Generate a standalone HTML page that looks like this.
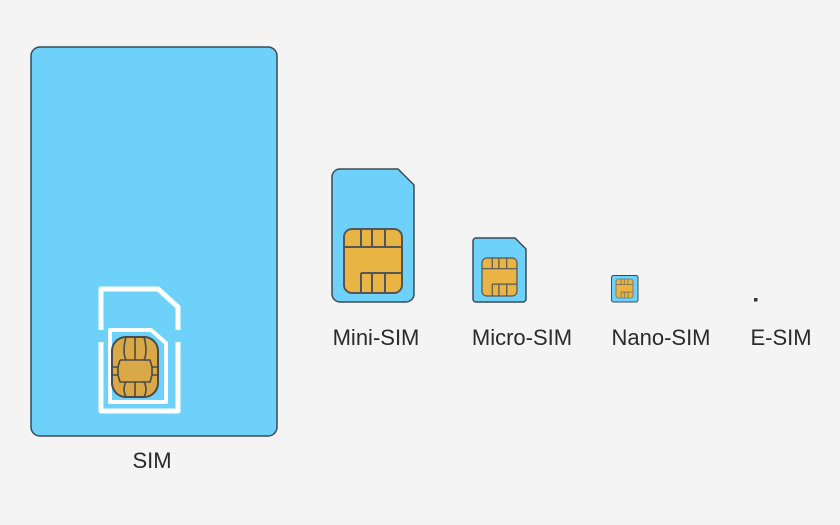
<!DOCTYPE html>
<html><head><style>
body{margin:0;background:#f4f4f4;}
svg{display:block}
text{font-family:"Liberation Sans",Arial,sans-serif;font-size:22px;fill:#2a2a2a;text-anchor:middle}
</style></head><body>
<svg width="840" height="525" viewBox="0 0 840 525">
<defs>
<g id="chip">
<rect x="0" y="0" width="58" height="64" rx="8" fill="#e8b545" stroke="#555" stroke-width="2"/>
<path d="M17 0V18M28 0V18M41 0V18M0 18H58M17 44H58M17 44V64M28 44V64M41 44V64" stroke="#555" stroke-width="2" fill="none"/>
</g>
</defs>
<rect width="840" height="525" fill="#f4f4f4"/>
<rect x="31" y="47" width="246" height="389" rx="9" fill="#6dd1fa" stroke="#3c4a55" stroke-width="1.5"/>
<path d="M101 289H158L178 307V411H101Z" fill="none" stroke="#fff" stroke-width="5" stroke-linejoin="round"/>
<rect x="97" y="330" width="9" height="12" fill="#6dd1fa"/>
<rect x="169" y="330" width="12" height="12" fill="#6dd1fa"/>
<path d="M110 330H151L166 343V402H110Z" fill="none" stroke="#fff" stroke-width="4" stroke-linejoin="round"/>
<g transform="translate(112,337)">
<rect x="0" y="0" width="46" height="60" rx="14" fill="#d9a948" stroke="#4a4a4a" stroke-width="2"/>
<path d="M14 0Q10 15 14 23M32 0Q36 15 32 23M23 0V23M8 23H38L40 30H46M8 23L6 30H0M6 30V38M40 30V38M0 38H6L8 45H38L40 38H46M14 45Q10 52 14 60M32 45Q36 52 32 60M23 45V60" stroke="#4a4a4a" stroke-width="1.6" fill="none"/>
</g>
<text x="152" y="468">SIM</text>
<path d="M340 169H398L414 185V294a8 8 0 0 1-8 8H340a8 8 0 0 1-8-8V177a8 8 0 0 1 8-8Z" fill="#6dd1fa" stroke="#3c4a55" stroke-width="1.5"/>
<use href="#chip" transform="translate(344,229)"/>
<text x="376" y="345">Mini-SIM</text>
<path d="M477 238H515L526 249V299a3 3 0 0 1-3 3H476a3 3 0 0 1-3-3V241a3 3 0 0 1 3-3Z" fill="#6dd1fa" stroke="#3c4a55" stroke-width="1.5"/>
<use href="#chip" transform="translate(482,258) scale(0.603,0.594)"/>
<text x="522" y="345">Micro-SIM</text>
<rect x="611.5" y="275.5" width="26.5" height="26.5" rx="2" fill="#6dd1fa" stroke="#3c4a55" stroke-width="1"/>
<use href="#chip" transform="translate(616,279) scale(0.293,0.297)"/>
<text x="661" y="345">Nano-SIM</text>
<rect x="754" y="298" width="3.5" height="3.5" fill="#333"/>
<text x="781" y="345">E-SIM</text>
</svg>
</body></html>
